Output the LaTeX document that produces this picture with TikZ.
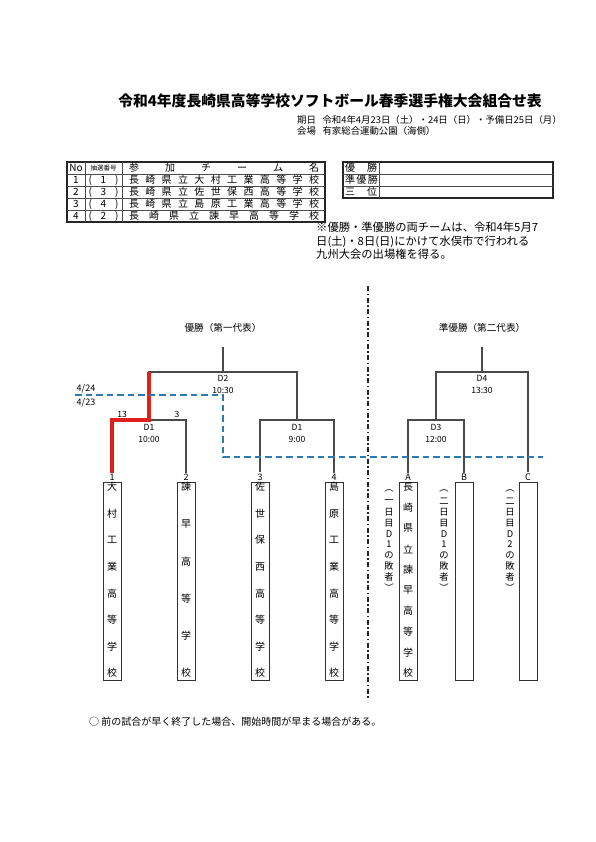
\documentclass[tikz,border=0pt]{standalone}
\usepackage{fontspec}
\setmainfont{Noto Sans CJK JP}
\usetikzlibrary{positioning}
\definecolor{brkGray}{HTML}{4A4A4A}
\definecolor{winRed}{HTML}{E0201C}
\definecolor{dayBlue}{HTML}{2B7BB0}
\tikzset{
  brk line/.style={draw=brkGray, line width=1.1pt},
  win line/.style={draw=winRed, line width=3.2pt},
  day line/.style={draw=dayBlue, line width=1.4pt, dash pattern=on 6.5pt off 4pt},
  court line/.style={draw=black!85, line width=1.3pt, dash pattern=on 5pt off 2.5pt on 1.5pt off 2.5pt},
  tbl outer/.style={draw=black!85, line width=1.2pt},
  tbl rule/.style={draw=black!70, line width=0.6pt},
  tbl text/.style={font=\fontsize{10}{10}\selectfont, inner sep=0pt},
  tbl tiny/.style={font=\fontsize{6.5}{6.5}\selectfont, inner sep=0pt},
  title text/.style={font=\fontsize{14.8}{14.8}\selectfont\bfseries, inner sep=0pt},
  info text/.style={font=\fontsize{9.4}{9.4}\selectfont, inner sep=0pt},
  note text/.style={font=\fontsize{11.3}{13.5}\selectfont, inner sep=0pt},
  remark text/.style={font=\fontsize{10}{10}\selectfont, inner sep=0pt},
  head text/.style={font=\fontsize{9.6}{9.6}\selectfont},
  team box/.style={draw=black!80, line width=1pt, minimum width=18pt, minimum height=198pt, inner sep=0pt},
  seed label/.style={font=\fontsize{9}{9}\selectfont, inner sep=1pt},
  match label/.style={font=\fontsize{8.5}{12}\selectfont, align=center, inner sep=0pt},
  score label/.style={font=\fontsize{8.5}{8.5}\selectfont, inner sep=0pt},
  day label/.style={font=\fontsize{9}{9}\selectfont, inner sep=0pt},
  tate char/.style={font=\fontsize{10}{10}\selectfont, inner sep=0pt},
  side char/.style={font=\fontsize{9.3}{9.3}\selectfont, inner sep=0pt},
}

\begin{document}
\begin{tikzpicture}[x=1pt,y=-1pt]
  \useasboundingbox (0,0) rectangle (595,842);
  \fill[white] (0,0) rectangle (595,842);

  % Heading
  \node[title text] (title) at (330,101) {令和4年度長崎県高等学校ソフトボール春季選手権大会組合せ表};
  \node[info text, anchor=west] (kijitsu) at (297,120) {期日\hspace{0.7em}令和4年4月23日（土）・24日（日）・予備日25日（月）};
  \node[info text, anchor=west] (kaijo) at (297,131) {会場\hspace{0.7em}有家総合運動公園（海側）};

  % Entry table
  \draw[tbl outer] (67,162) rectangle (325,222);
  \foreach \y in {174,186,198,210} {
    \draw[tbl rule] (67,\y) -- (325,\y);
  }
  \draw[tbl rule] (85,162) -- (85,222);
  \draw[tbl rule] (122,162) -- (122,222);
  \node[tbl text] (hNo) at (76,168) {No};
  \node[tbl tiny] (hLot) at (103.5,168) {抽選番号};
  \node[tbl text] (hName) at (224,168) {\makebox[190pt][s]{参 加 チ ー ム 名}};
  \foreach \no/\lot/\name [count=\r] in {
      1/1/{長 崎 県 立 大 村 工 業 高 等 学 校},
      2/3/{長 崎 県 立 佐 世 保 西 高 等 学 校},
      3/4/{長 崎 県 立 島 原 工 業 高 等 学 校},
      4/2/{長 崎 県 立 諫 早 高 等 学 校}} {
    \node[tbl text] (no\r) at (76,{168+12*\r}) {\no};
    \node[tbl text] (lot\r) at (103.5,{168+12*\r}) {\makebox[30pt][s]{( \lot{} )}};
    \node[tbl text] (name\r) at (224,{168+12*\r}) {\makebox[190pt][s]{\name}};
  }

  % Result table
  \draw[tbl outer] (343,162) rectangle (553,198);
  \draw[tbl rule] (343,174) -- (553,174);
  \draw[tbl rule] (343,186) -- (553,186);
  \draw[tbl rule] (379,162) -- (379,198);
  \node[tbl text] (pr1) at (361,168) {\makebox[32pt][s]{優 勝}};
  \node[tbl text] (pr2) at (361,180) {\makebox[32pt][s]{準 優 勝}};
  \node[tbl text] (pr3) at (361,192) {\makebox[32pt][s]{三 位}};

  \node[note text, anchor=north west, align=left] (qual) at (316,222)
    {※優勝・準優勝の両チームは、令和4年5月7\\日(土)・8日(日)にかけて水俣市で行われる\\九州大会の出場権を得る。};

  % Court divider
  \draw[court line] (368,286) -- (368,700);

  % Bracket heads
  \node[head text] (champ) at (223,328) {優勝（第一代表）};
  \node[head text] (runner) at (482,328) {準優勝（第二代表）};

  % Team boxes
  \foreach \id/\x in {1/112,2/186,3/260,4/334,A/408,B/464,C/528} {
    \node[team box] (t\id) at (\x,581) {};
    \node[seed label, above=0pt of t\id] (s\id) {\id};
  }

  % Junctions
  \coordinate (j1) at (149,420);
  \coordinate (j2) at (297,420);
  \coordinate (j3) at (223,372);
  \coordinate (j4) at (436,420);
  \coordinate (j5) at (482,372);

  \draw[brk line] (s1.north) |- (j1);
  \draw[brk line] (s2.north) |- (j1);
  \draw[brk line] (s3.north) |- (j2);
  \draw[brk line] (s4.north) |- (j2);
  \draw[brk line] (j1) |- (j3);
  \draw[brk line] (j2) |- (j3);
  \draw[brk line] (j3) -- ([yshift=-11pt]champ.south);
  \draw[brk line] (sA.north) |- (j4);
  \draw[brk line] (sB.north) |- (j4);
  \draw[brk line] (j4) |- (j5);
  \draw[brk line] (sC.north) |- (j5);
  \draw[brk line] (j5) -- ([yshift=-11pt]runner.south);
  % winner of D1
  \draw[win line] (s1.north) |- (j1) -- (j1 |- j3);

  \node[match label] (m1) at (149,433) {D1\\10:00};
  \node[match label] (m2) at (297,433) {D1\\9:00};
  \node[match label] (m3) at (223,384) {D2\\10:30};
  \node[match label] (m4) at (436,433) {D3\\12:00};
  \node[match label] (m5) at (482,384) {D4\\13:30};
  \node[score label] (sc1) at (122,414) {13};
  \node[score label] (sc2) at (177,414) {3};

  % Day boundary
  \coordinate (dayW) at (75,395);
  \coordinate (dayK) at (223,395);
  \coordinate (dayE) at (543,457);
  \draw[day line] (dayW) -- (dayK) |- (dayE);
  \node[day label] (d24) at (86,389) {4/24};
  \node[day label] (d23) at (86,403) {4/23};

  % Team names, written top to bottom
  \foreach \ch [count=\k] in {大,村,工,業,高,等,学,校} {
    \node[tate char] (n1-\k) at (112,{487+(\k-1)*186/7}) {\ch};
  }
  \foreach \ch [count=\k] in {諫,早,高,等,学,校} {
    \node[tate char] (n2-\k) at (186,{487+(\k-1)*186/5}) {\ch};
  }
  \foreach \ch [count=\k] in {佐,世,保,西,高,等,学,校} {
    \node[tate char] (n3-\k) at (260,{487+(\k-1)*186/7}) {\ch};
  }
  \foreach \ch [count=\k] in {島,原,工,業,高,等,学,校} {
    \node[tate char] (n4-\k) at (334,{487+(\k-1)*186/7}) {\ch};
  }
  \foreach \ch [count=\k] in {長,崎,県,立,諫,早,高,等,学,校} {
    \node[tate char] (nA-\k) at (408,{487+(\k-1)*186/9}) {\ch};
  }

  % Side notes for A, B, C
  \foreach \ch [count=\k] in {︵,一,日,目,D,1,の,敗,者,︶} {
    \node[side char] (lA-\k) at (389,{491+(\k-1)*10.7}) {\ch};
  }
  \foreach \ch [count=\k] in {︵,二,日,目,D,1,の,敗,者,︶} {
    \node[side char] (lB-\k) at (444,{491+(\k-1)*10.7}) {\ch};
  }
  \foreach \ch [count=\k] in {︵,二,日,目,D,2,の,敗,者,︶} {
    \node[side char] (lC-\k) at (510,{491+(\k-1)*10.7}) {\ch};
  }

  \node[remark text, anchor=west] (remark) at (89,722) {○ 前の試合が早く終了した場合、開始時間が早まる場合がある。};
\end{tikzpicture}
\end{document}
